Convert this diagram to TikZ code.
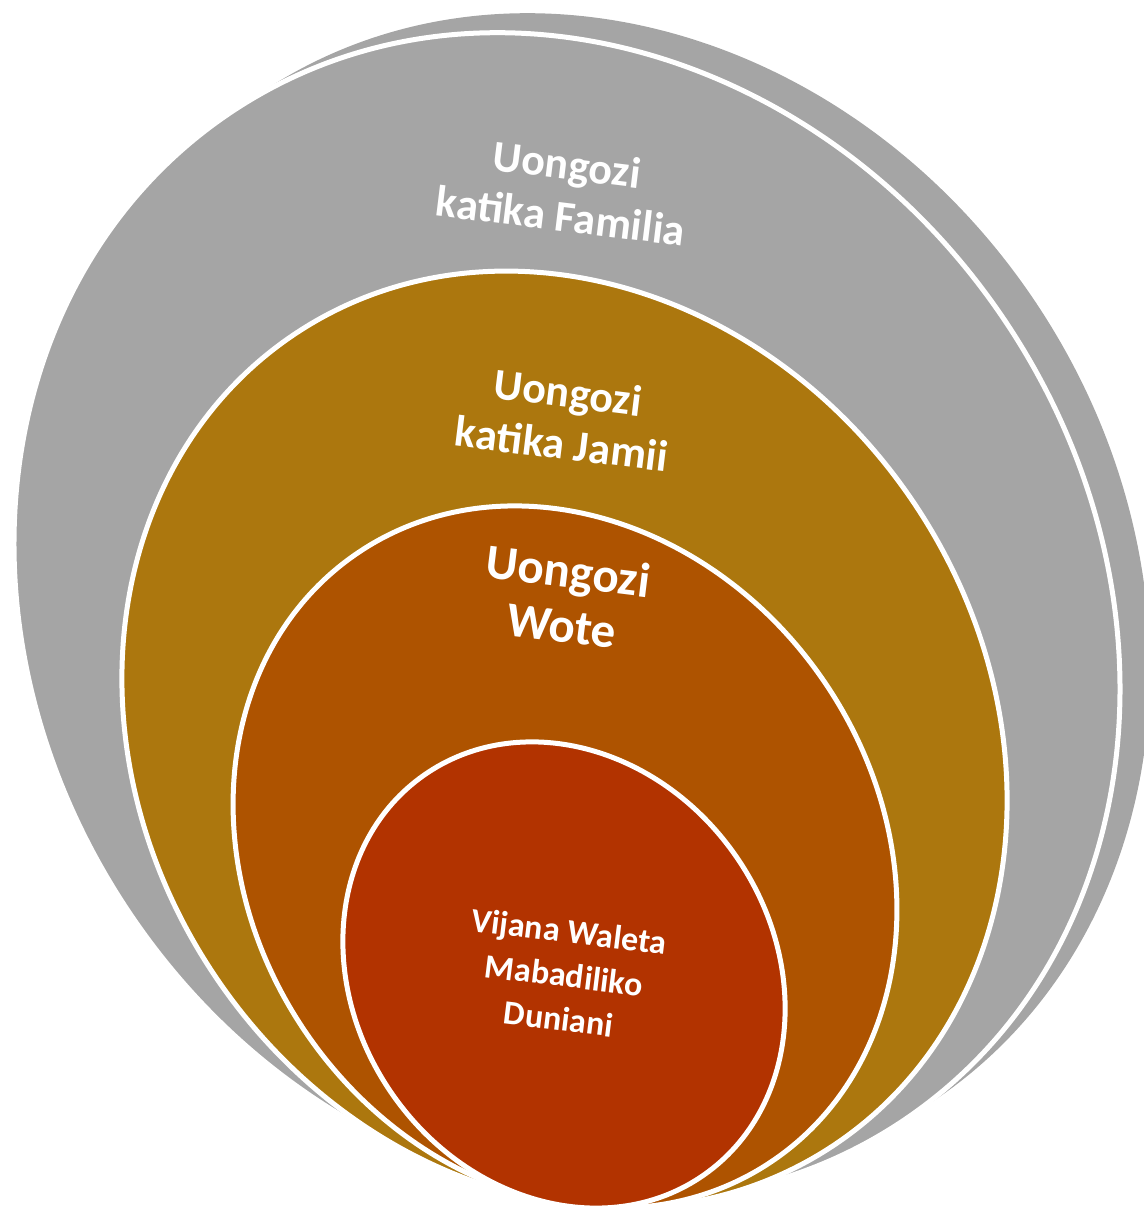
\documentclass[tikz,border=0pt]{standalone}
\usepackage{fontspec}
\setmainfont{Carlito}
\definecolor{cgray}{HTML}{A5A5A5}
\definecolor{cgold}{HTML}{AC770E}
\definecolor{cbrown}{HTML}{AE5300}
\definecolor{cred}{HTML}{B23300}
\begin{document}
\begin{tikzpicture}[x=1pt,y=1pt,
  ring/.style={draw=white,line width=5pt},
  lbl/.style={text=white,font=\bfseries,align=center,rotate=-7,inner sep=0pt}]
\useasboundingbox (0,0) rectangle (1143,1209);
% back layer
\fill[cgray,rotate around={33.3:(597,612)}] (597,612) ellipse [x radius=528.5,y radius=606];
% front gray
\filldraw[cgray,ring,rotate around={33.3:(567,592.5)}] (567,592.5) ellipse [x radius=528.5,y radius=606];
% gold
\filldraw[cgold,ring,rotate around={33.3:(564.5,469.5)}] (564.5,469.5) ellipse [x radius=422,y radius=487];
% brown
\filldraw[cbrown,ring,rotate around={34.8:(565,352)}] (565,352) ellipse [x radius=313,y radius=368];
% red
\filldraw[cred,ring,rotate around={35:(564,234)}] (564,234) ellipse [x radius=209,y radius=244];
\node[lbl,font=\bfseries\fontsize{44}{52}\selectfont] (t1) at (564,1019) {Uongozi\\katika Familia};
\node[lbl,font=\bfseries\fontsize{44}{52}\selectfont] (t2) at (565,791) {Uongozi\\katika Jamii};
\node[lbl,font=\bfseries\fontsize{49}{55}\selectfont] (t3) at (565,611) {Uongozi\\Wote};
\node[lbl,font=\bfseries\fontsize{34}{44}\selectfont] (t4) at (564,234) {Vijana Waleta\\Mabadiliko\\Duniani};
\end{tikzpicture}
\end{document}
